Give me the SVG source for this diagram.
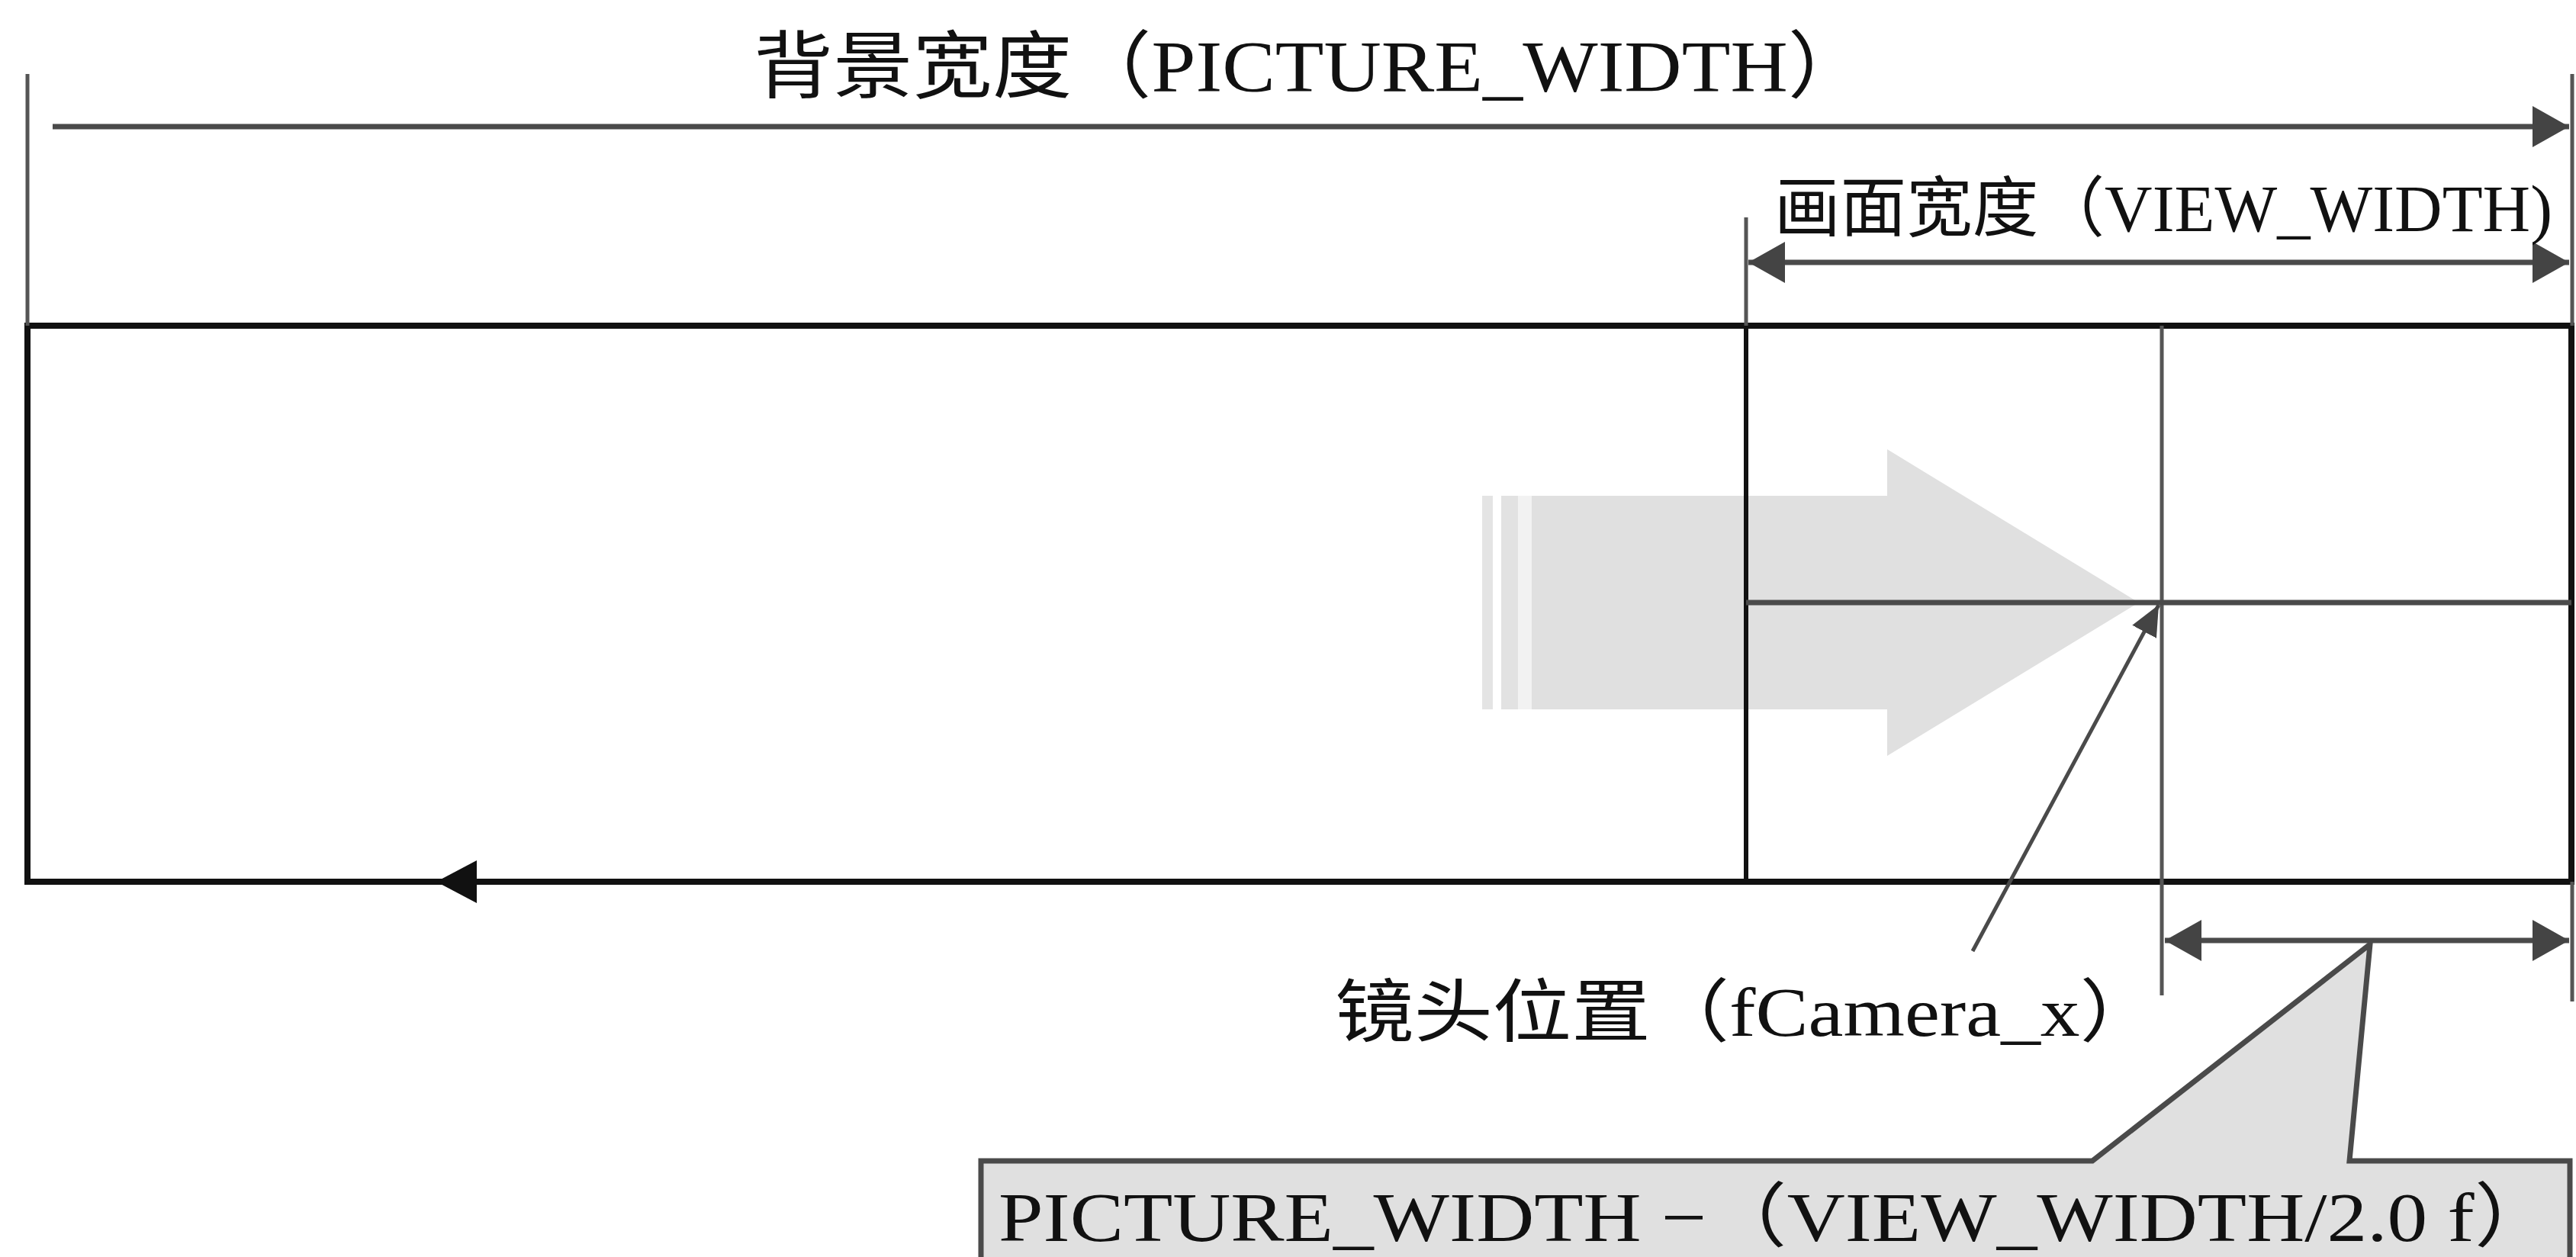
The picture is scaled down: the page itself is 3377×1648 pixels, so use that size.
<svg xmlns="http://www.w3.org/2000/svg" width="3377" height="1648" viewBox="0 0 3377 1648">
  <style>
    .txt { font-family: "Liberation Serif", "Noto Sans CJK SC", serif; fill: #111; }
    .frame { fill: none; stroke: #111; stroke-width: 8; }
    .inner { fill: none; stroke: #111; stroke-width: 6; }
    .tick { fill: none; stroke: #555; stroke-width: 5; }
    .dim { fill: none; stroke: #4a4a4a; stroke-width: 7; }
    .thin { fill: none; stroke: #4a4a4a; stroke-width: 5; }
  </style>
  <defs>
    <marker id="ah" markerUnits="userSpaceOnUse" markerWidth="50" markerHeight="56" refX="48" refY="28" orient="auto-start-reverse">
      <path d="M0,1 L48,28 L0,55 z" fill="#444"/>
    </marker>
    <marker id="ahSmall" markerUnits="userSpaceOnUse" markerWidth="42" markerHeight="40" refX="40" refY="20" orient="auto">
      <path d="M0,2 L40,20 L0,38 z" fill="#444"/>
    </marker>
  </defs>
  <rect width="3377" height="1648" fill="#ffffff"/>

  <!-- big scroll arrow (light gray) -->
  <g id="scroll-arrow">
    <polygon points="2008,650 2474,650 2474,589 2804,790 2474,991 2474,930 2008,930" fill="#e0e0e0"/>
    <rect x="1943" y="650" width="14" height="280" fill="#e4e4e4"/>
    <rect x="1968" y="650" width="22" height="280" fill="#e2e2e2"/>
    <rect x="1990" y="650" width="18" height="280" fill="#f2f2f2"/>
  </g>

  <!-- background picture rectangle -->
  <g id="background">
    <rect class="frame" x="36" y="427" width="3335" height="729"/>
  </g>

  <!-- view area -->
  <g id="view-area">
    <line class="inner" x1="2289" y1="427" x2="2289" y2="1156"/>
  </g>

  <!-- camera position line -->
  <g id="camera-line">
    <line class="tick" x1="2834" y1="427" x2="2834" y2="1305"/>
  </g>

  <!-- connectors / dimension lines -->
  <g id="connectors">
    <!-- extension ticks -->
    <line class="tick" x1="36" y1="97" x2="36" y2="427"/>
    <line class="tick" x1="3372" y1="97" x2="3372" y2="427"/>
    <line class="tick" x1="2289" y1="285" x2="2289" y2="427"/>
    <line class="tick" x1="3372" y1="1156" x2="3372" y2="1313"/>
    <!-- picture width -->
    <line class="dim" x1="69" y1="166" x2="3368" y2="166" marker-end="url(#ah)"/>
    <!-- view width -->
    <line class="dim" x1="2292" y1="344" x2="3368" y2="344" marker-start="url(#ah)" marker-end="url(#ah)"/>
    <!-- horizontal camera line -->
    <line class="dim" x1="2289" y1="790" x2="3371" y2="790"/>
    <!-- scroll direction on bottom edge -->
    <polygon points="572,1156 625,1128 625,1184" fill="#111"/>
    <!-- pointer to camera position -->
    <line class="thin" x1="2586" y1="1247" x2="2830" y2="793" marker-end="url(#ahSmall)"/>
    <!-- half view width -->
    <line class="dim" x1="2838" y1="1233" x2="3368" y2="1233" marker-start="url(#ah)" marker-end="url(#ah)"/>
  </g>

  <!-- callout -->
  <g id="callout">
    <polygon points="1286,1522 2743,1522 3107,1238 3080,1522 3369,1522 3369,1670 1286,1670" fill="#e0e0e0" stroke="#4a4a4a" stroke-width="7" stroke-linejoin="miter"/>
    <text class="txt" x="1309" y="1627" font-size="92" textLength="2040" lengthAdjust="spacingAndGlyphs">PICTURE_WIDTH −（VIEW_WIDTH/2.0 f）</text>
  </g>

  <!-- labels -->
  <g id="label-picture-width">
    <text class="txt" x="988" y="120" font-size="96" textLength="1460" lengthAdjust="spacingAndGlyphs">背景宽度（PICTURE_WIDTH）</text>
  </g>
  <g id="label-view-width">
    <text class="txt" x="2326" y="303" font-size="86" textLength="1020" lengthAdjust="spacingAndGlyphs">画面宽度（VIEW_WIDTH)</text>
  </g>
  <g id="label-camera">
    <text class="txt" x="1750" y="1358" font-size="90" textLength="1080" lengthAdjust="spacingAndGlyphs">镜头位置（fCamera_x）</text>
  </g>
</svg>
